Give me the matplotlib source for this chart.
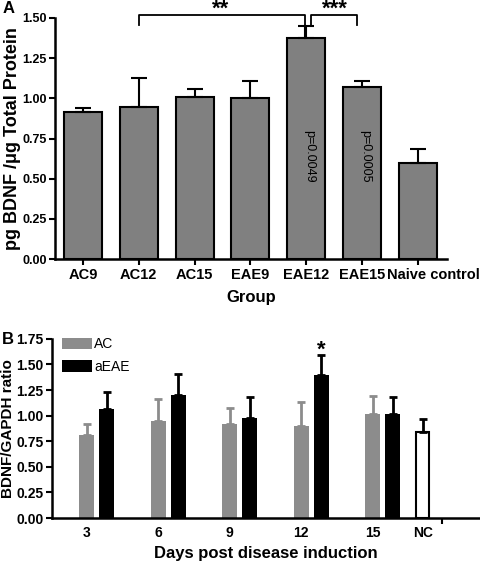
import matplotlib
matplotlib.use("Agg")
import matplotlib.pyplot as plt
import numpy as np

plt.rcParams['font.family'] = ['Liberation Sans', 'DejaVu Sans']

# Panel A data
groups_a = ['AC9', 'AC12', 'AC15', 'EAE9', 'EAE12', 'EAE15', 'Naive control']
mean_a = [0.915, 0.948, 1.01, 1.0, 1.375, 1.07, 0.597]
sem_a = [0.025, 0.178, 0.05, 0.11, 0.075, 0.04, 0.088]
pvals = {4: 'p=0.0049', 5: 'p=0.0005'}

# Panel B data
days = ['3', '6', '9', '12', '15']
ac_b = [0.81, 0.95, 0.92, 0.90, 1.02]
ac_b_err = [0.11, 0.21, 0.15, 0.23, 0.17]
eae_b = [1.065, 1.20, 0.98, 1.40, 1.02]
eae_b_err = [0.165, 0.21, 0.20, 0.19, 0.16]
nc_b = 0.84
nc_b_err = 0.13

fig = plt.figure(figsize=(4.8, 5.61), dpi=100)

# ---------------- Panel A ----------------
ax1 = fig.add_axes([0.1146, 0.538, 0.8164, 0.43])
x = np.arange(len(groups_a))
ax1.bar(x, mean_a, width=0.68, color='#808080', edgecolor='black', linewidth=1.5, zorder=2)
ax1.errorbar(x, mean_a, yerr=[np.zeros(len(sem_a)), sem_a], fmt='none', ecolor='black',
             elinewidth=1.5, capsize=6, capthick=1.5, zorder=3)
for i, txt in pvals.items():
    ax1.text(x[i] + 0.05, 0.64, txt, rotation=-90, ha='center', va='center', fontsize=9)

# significance brackets
ax1.plot([1, 1, 3.97, 3.97], [1.456, 1.518, 1.518, 1.45], color='black', lw=1.3, clip_on=False)
ax1.plot([4.09, 4.09, 4.91, 4.91], [1.45, 1.518, 1.518, 1.456], color='black', lw=1.3, clip_on=False)
ax1.plot([3.97, 3.97], [1.375, 1.45], color='black', lw=1.5, clip_on=False)
ax1.text(2.46, 1.555, '**', ha='center', va='center', fontsize=16, fontweight='bold')
ax1.text(4.52, 1.555, '***', ha='center', va='center', fontsize=16, fontweight='bold')

ax1.set_xlim(-0.5, 6.52)
ax1.set_ylim(0, 1.5)
ax1.set_yticks([0, 0.25, 0.5, 0.75, 1.0, 1.25, 1.5])
ax1.set_yticklabels(['0.00', '0.25', '0.50', '0.75', '1.00', '1.25', '1.50'])
ax1.set_xticks(x)
ax1.set_xticklabels(groups_a[:-1] + [''])
# last label sits a little right of its bar, as in the original
ax1.set_xticks([x[-1] + 0.27], minor=True)
ax1.set_xticklabels(groups_a[-1:], minor=True)
ax1.tick_params(axis='x', which='minor', length=0, pad=6)
for lab in ax1.get_xticklabels() + ax1.get_xticklabels(minor=True):
    lab.set_fontweight('bold')
    lab.set_fontsize(10.5)
for lab in ax1.get_yticklabels():
    lab.set_fontweight('bold')
    lab.set_fontsize(9)
ax1.tick_params(axis='both', which='major', width=1.5, length=4, pad=2)
ax1.spines['top'].set_visible(False)
ax1.spines['right'].set_visible(False)
ax1.spines['left'].set_linewidth(1.8)
ax1.spines['bottom'].set_linewidth(1.8)
ax1.set_ylabel('pg BDNF /\u03bcg Total Protein', fontsize=13, fontweight='bold', labelpad=1)
ax1.set_xlabel('Group', fontsize=12, fontweight='bold', labelpad=6)
fig.text(0.006, 0.985, 'A', fontsize=12, fontweight='bold', va='center')

# ---------------- Panel B ----------------
ax2 = fig.add_axes([0.108, 0.0766, 0.892, 0.3194])
xb = np.arange(len(days))
off = 0.28
ax2.bar(xb, ac_b, width=0.21, color='#8c8c8c', label='AC', zorder=2)
ax2.errorbar(xb, ac_b, yerr=[np.zeros(len(ac_b)), ac_b_err], fmt='none', ecolor='#8c8c8c',
             elinewidth=2, capsize=3, capthick=2, zorder=3)
ax2.bar(xb + off, eae_b, width=0.21, color='black', label='aEAE', zorder=2)
ax2.errorbar(xb + off, eae_b, yerr=[np.zeros(len(eae_b)), eae_b_err], fmt='none', ecolor='black',
             elinewidth=2, capsize=3, capthick=2, zorder=3)
nc_x = 4.7
ax2.bar([nc_x], [nc_b], width=0.18, color='white', edgecolor='black', linewidth=1.5, zorder=2)
ax2.errorbar([nc_x], [nc_b], yerr=[[0], [nc_b_err]], fmt='none', ecolor='black',
             elinewidth=2, capsize=3, capthick=2, zorder=3)
ax2.text(3 + off, 1.64, '*', ha='center', va='center', fontsize=16, fontweight='bold')

ax2.set_xlim(-0.49, 5.5)
ax2.set_ylim(0, 1.75)
ax2.set_yticks(np.arange(0, 1.76, 0.25))
ax2.set_yticklabels(['0.00', '0.25', '0.50', '0.75', '1.00', '1.25', '1.50', '1.75'])
ax2.set_xticks(list(xb) + [nc_x])
ax2.set_xticklabels(days + ['NC'])
ax2.set_xticks([4.97], minor=True)
ax2.tick_params(axis='x', which='major', length=0, pad=6)
ax2.tick_params(axis='x', which='minor', length=4, width=1.5)
ax2.tick_params(axis='y', width=1.5, length=4, pad=2)
for lab in ax2.get_xticklabels() + ax2.get_yticklabels():
    lab.set_fontweight('bold')
    lab.set_fontsize(10)
ax2.spines['top'].set_visible(False)
ax2.spines['right'].set_visible(False)
ax2.spines['left'].set_linewidth(1.8)
ax2.spines['bottom'].set_linewidth(1.8)
ax2.set_ylabel('BDNF/GAPDH ratio', fontsize=11, fontweight='bold', labelpad=1)
ax2.set_xlabel('Days post disease induction', fontsize=12, fontweight='bold', labelpad=4)
ax2.legend(loc='upper left', bbox_to_anchor=(0.01, 1.04), frameon=False, fontsize=10,
           handlelength=2.2, handleheight=0.9, handletextpad=0.15, labelspacing=0.6, borderaxespad=0)
fig.text(0.004, 0.395, 'B', fontsize=12, fontweight='bold', va='center')

fig.savefig('out.png', dpi=100)
